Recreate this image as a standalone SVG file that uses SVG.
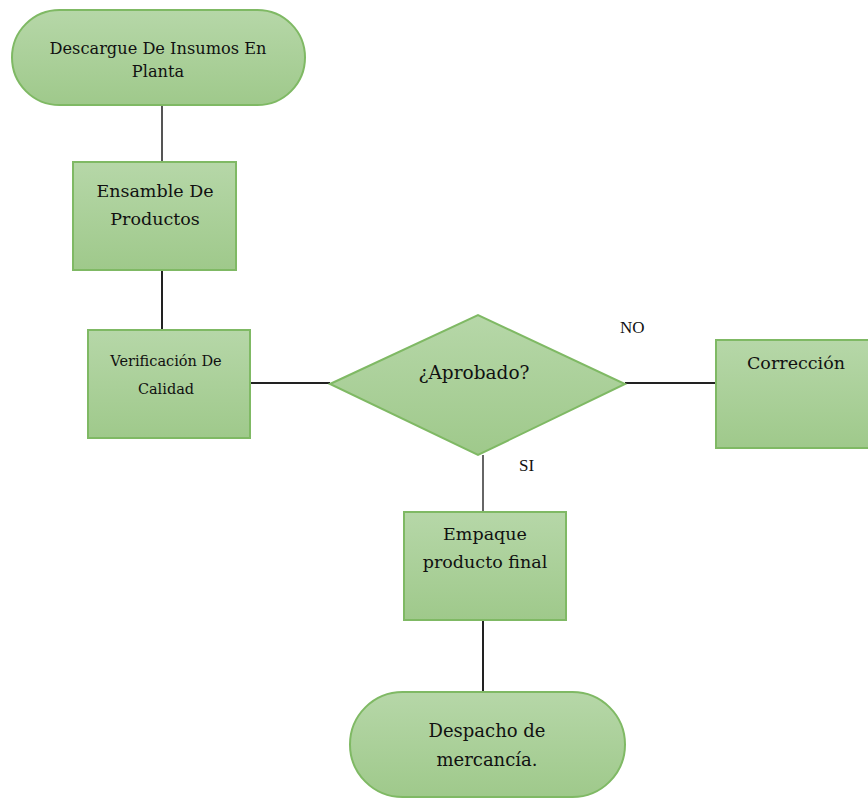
<svg xmlns="http://www.w3.org/2000/svg" width="868" height="799" viewBox="0 0 868 799">
<defs>
<linearGradient id="g" x1="0" y1="0" x2="0" y2="1">
<stop offset="0" stop-color="#b6d7a8"/>
<stop offset="1" stop-color="#9fc98b"/>
</linearGradient>
<style>
.n{fill:url(#g);stroke:#7fb964;stroke-width:2}
.c{stroke:#222;stroke-width:2;fill:none}
.t{font-family:"DejaVu Serif","Liberation Serif",serif;font-size:17.5px;fill:#111;text-anchor:middle}
.l{font-family:"Liberation Serif",serif;font-size:17px;fill:#111}
</style>
</defs>
<g id="connectors">
<line class="c" x1="162" y1="105" x2="162" y2="162" style="stroke:#555"/>
<line class="c" x1="162" y1="270" x2="162" y2="330"/>
<line class="c" x1="250" y1="383" x2="330" y2="383"/>
<line class="c" x1="625" y1="383" x2="716" y2="383"/>
<line class="c" x1="483" y1="455" x2="483" y2="512" style="stroke:#666"/>
<line class="c" x1="483" y1="620" x2="483" y2="692"/>
</g>
<g id="n1">
<rect class="n" x="12" y="10" width="293" height="95" rx="47.5"/>
<text class="t" x="158" y="54" style="font-size:16.2px">Descargue De Insumos En</text>
<text class="t" x="158" y="77" style="font-size:16.2px">Planta</text>
</g>
<g id="n2">
<rect class="n" x="73" y="162" width="163" height="108"/>
<text class="t" x="155" y="197">Ensamble De</text>
<text class="t" x="155" y="225">Productos</text>
</g>
<g id="n3">
<rect class="n" x="88" y="330" width="162" height="108"/>
<text class="t" x="166" y="366" style="font-size:14.5px">Verificación De</text>
<text class="t" x="166" y="394" style="font-size:14.5px">Calidad</text>
</g>
<g id="n4">
<polygon class="n" points="330,384 478,315 625,384 478,455"/>
<text class="t" x="474" y="379" style="font-size:18.5px">¿Aprobado?</text>
</g>
<g id="n5">
<rect class="n" x="716" y="340" width="160" height="108"/>
<text class="t" x="796" y="369">Corrección</text>
</g>
<g id="n6">
<rect class="n" x="404" y="512" width="162" height="108"/>
<text class="t" x="485" y="540">Empaque</text>
<text class="t" x="485" y="568">producto final</text>
</g>
<g id="n7">
<rect class="n" x="350" y="692" width="275" height="105" rx="52.5"/>
<text class="t" x="487" y="737" style="font-size:18px">Despacho de</text>
<text class="t" x="487" y="766" style="font-size:18px">mercancía.</text>
</g>
<text class="l" x="620" y="333">NO</text>
<text class="l" x="519" y="471">SI</text>
</svg>
